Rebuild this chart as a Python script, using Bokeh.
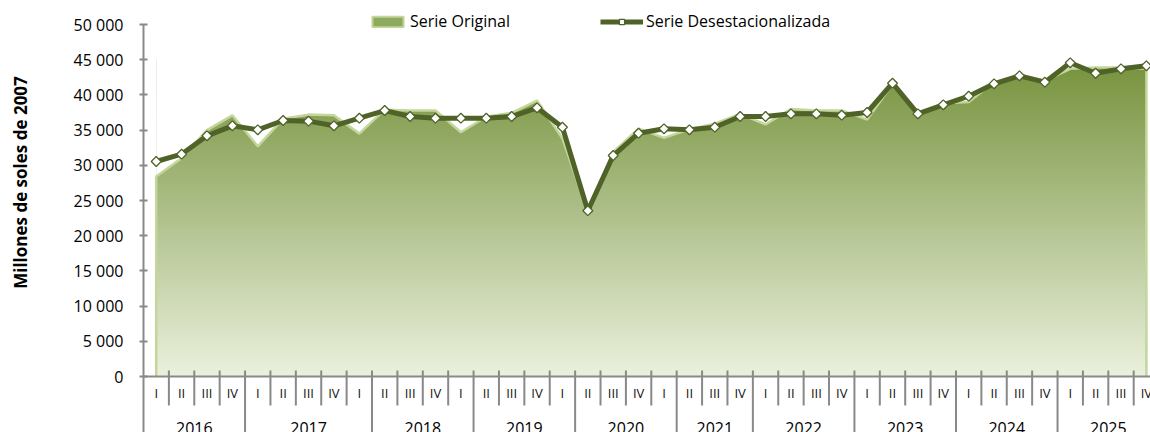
import numpy as np
from bokeh.plotting import figure
from bokeh.layouts import row
from bokeh.models import Range1d, FixedTicker, Legend, LegendItem
from bokeh.embed import file_html
from bokeh.resources import INLINE
from bokeh.core.properties import value

# ---------------- data ----------------
years = ["2016", "2017", "2018", "2019", "2020", "2021", "2022", "2023", "2024", "2025"]
year_span = [4, 5, 4, 4, 4, 3, 4, 4, 4, 4]          # quarters printed under each year label
quarters = ["I", "II", "III", "IV"] * 10

serie_original = [28400, 31000, 35000, 37100, 32700, 36600, 37200, 37100,
                  34500, 37900, 37800, 37800, 34700, 36900, 37450, 39200,
                  33800, 23300, 31900, 35200, 33900, 35100, 35900, 37300,
                  35800, 38000, 37800, 37800, 36500, 41500, 37500, 38800,
                  39000, 41800, 42900, 42000, 43700, 43900, 43900, 43700]

serie_desest = [30540, 31580, 34190, 35610, 35040, 36360, 36270, 35610,
                36690, 37780, 36930, 36690, 36690, 36690, 36930, 38160,
                35410, 23550, 31390, 34560, 35180, 35040, 35410, 36930,
                36930, 37310, 37310, 37120, 37500, 41660, 37310, 38590,
                39820, 41570, 42710, 41810, 44560, 43080, 43700, 44130]

y_ticks = [0, 5000, 10000, 15000, 20000, 25000, 30000, 35000, 40000, 45000, 50000]
y_tick_labels = ["0", "5 000", "10 000", "15 000", "20 000", "25 000",
                 "30 000", "35 000", "40 000", "45 000", "50 000"]
y_title = "Millones de soles de 2007"

# ---------------- geometry ----------------
W, H = 1150, 432
TW = 40             # width of the side strip holding the vertical axis title
LEFT = 143 - TW
TOP50 = 24          # px from top where 50 000 sits
ZERO = 376          # px from top where 0 sits
u_per_px = 50000 / float(ZERO - TOP50)
y_end = 50000 + TOP50 * u_per_px
y_start = -(H - ZERO) * u_per_px
px_per_cat = 25.39
x_end = -0.5 + (W - TW - LEFT) / px_per_cat

n = len(quarters)
idx = np.arange(n)

# side strip with the y-axis title
t = figure(width=TW, height=H, output_backend="svg", toolbar_location=None, tools="",
           x_range=Range1d(0, TW), y_range=Range1d(0, H), x_axis_type=None, y_axis_type=None,
           min_border=0)
t.outline_line_color = None
t.grid.visible = False
t.text(x=[20], y=[H - 182], text=[y_title], angle=np.pi / 2, text_align="center",
       text_baseline="middle", text_font=value("Open Sans"), text_font_size="17px",
       text_font_style="bold", text_color="black")

p = figure(width=W - TW, height=H, output_backend="svg", toolbar_location=None, tools="",
           x_range=Range1d(-0.5, x_end), y_range=Range1d(y_start, y_end),
           x_axis_type=None, min_border_left=LEFT, min_border_right=0,
           min_border_top=0, min_border_bottom=0)
p.outline_line_color = None
p.grid.visible = False

# gradient fill for the original series (image masked above the series)
top_c = np.array([118, 146, 60])
bot_c = np.array([235, 241, 222])
N = 400
img = np.zeros((N, 1), dtype=np.uint32)
view = img.view(dtype=np.uint8).reshape((N, 1, 4))
for r in range(N):
    f = r / (N - 1)
    c = bot_c + (top_c - bot_c) * f
    view[r, 0, 0] = int(c[0]); view[r, 0, 1] = int(c[1]); view[r, 0, 2] = int(c[2]); view[r, 0, 3] = 255
p.image_rgba(image=[img], x=0, y=0, dw=n - 1, dh=45000)
p.varea(x=idx, y1=serie_original, y2=[y_end] * n, fill_color="white")

# area border
bx = np.concatenate([[0], idx, [n - 1]])
by = np.concatenate([[0], serie_original, [0]])
p.line(bx, by, line_color="#c3d69b", line_width=2.5)

# category table
grey = "#898989"
tick_top = 6 * u_per_px
short_bot = -29 * u_per_px
year_bounds = np.cumsum(year_span) - 0.5
inner = idx[:-1] + 0.5
short = [b for b in inner if b not in set(year_bounds)]
p.segment(x0=short, y0=[tick_top] * len(short), x1=short, y1=[short_bot] * len(short),
          line_color=grey, line_width=2)
p.segment(x0=year_bounds, y0=[tick_top] * len(year_bounds), x1=year_bounds,
          y1=[y_start] * len(year_bounds), line_color=grey, line_width=2)
p.segment(x0=[-0.5], y0=[0], x1=[n - 0.5], y1=[0], line_color=grey, line_width=2)

p.text(x=idx, y=[-16 * u_per_px] * n, text=quarters, text_align="center",
       text_baseline="middle", text_font=value("Open Sans"), text_font_size="13px",
       text_color="#111111")
starts = np.concatenate([[-0.5], year_bounds[:-1]])
centers = (starts + year_bounds) / 2
p.text(x=centers, y=[-51.5 * u_per_px] * len(years), text=years, text_align="center",
       text_baseline="middle", text_font=value("Open Sans"), text_font_size="16px",
       text_color="black")

# seasonally adjusted series
line_r = p.line(idx, serie_desest, line_color="#4f6228", line_width=5)
mark_r = p.scatter(idx, serie_desest, marker="square", angle=np.pi / 4, size=7,
                   fill_color="white", line_color="#4f6228", line_width=1.3)

# swatch renderer for legend (no visible data)
sw_r = p.quad(left=[np.nan], right=[np.nan], top=[np.nan], bottom=[np.nan],
              fill_color="#8eaa5e", line_color="#c3d69b", line_width=2)

# y axis
ax = p.yaxis[0]
ax.ticker = FixedTicker(ticks=y_ticks)
ax.major_label_overrides = {tk: lb for tk, lb in zip(y_ticks, y_tick_labels)}
ax.bounds = (y_start, 50000)
ax.axis_line_color = grey
ax.axis_line_width = 2
ax.major_tick_line_color = grey
ax.major_tick_line_width = 2
ax.major_tick_in = 4
ax.major_tick_out = 4
ax.minor_tick_line_color = None
ax.major_label_standoff = 16
ax.major_label_text_font = "Open Sans"
ax.major_label_text_font_size = "16px"
ax.major_label_text_color = "black"

def mk_legend(items, x, gw):
    return Legend(items=items, location=(x, 400), orientation="horizontal",
                  border_line_color=None, background_fill_alpha=0, padding=0, margin=0,
                  spacing=0, label_standoff=3, glyph_width=gw, glyph_height=13,
                  label_text_font="Open Sans", label_text_font_size="16px",
                  label_text_color="black")

p.add_layout(mk_legend([LegendItem(label="Serie Original", renderers=[sw_r])], 225, 39))
p.add_layout(mk_legend([LegendItem(label="Serie Desestacionalizada",
                                   renderers=[line_r, mark_r])], 457, 43))

layout = row(t, p, spacing=0)
open("out.html", "w").write(file_html(layout, INLINE))
